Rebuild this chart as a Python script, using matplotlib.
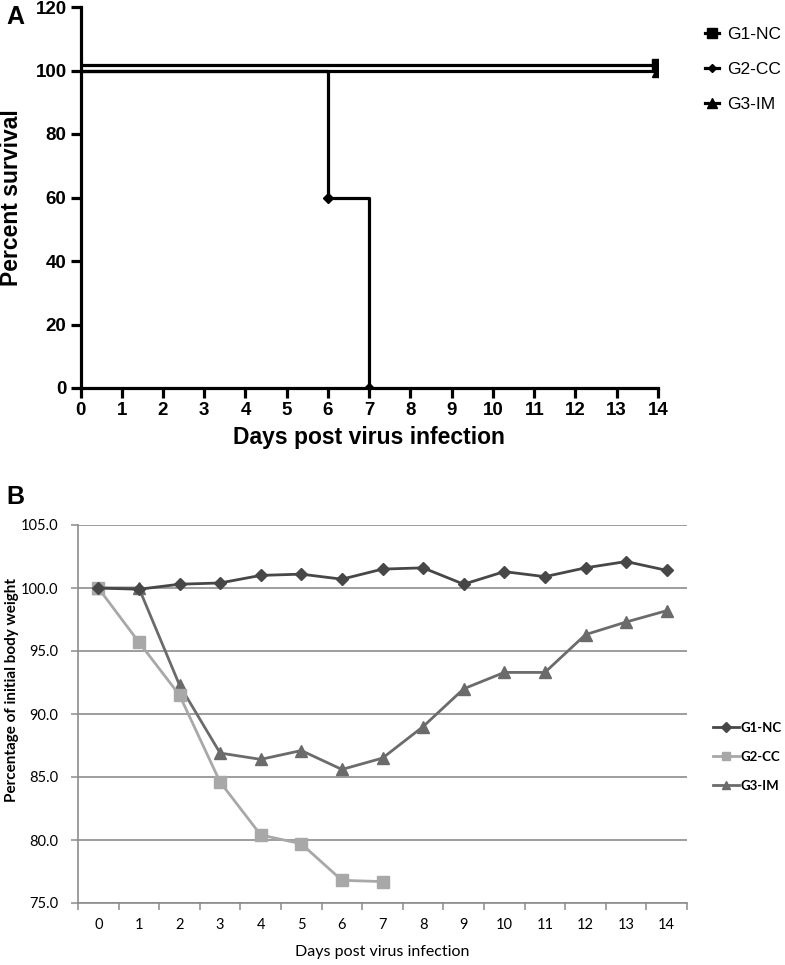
import matplotlib
matplotlib.use("Agg")
import matplotlib.pyplot as plt
from matplotlib.lines import Line2D
from matplotlib.transforms import offset_copy
import numpy as np

# ---------------- Data ----------------
# Panel A: survival (Kaplan-Meier steps)
g1_surv_days = [0, 14]
g1_surv_pct = [100, 100]
g2_surv_days = [0, 6, 7]
g2_surv_pct = [100, 60, 0]
g3_surv_days = [0, 14]
g3_surv_pct = [100, 100]

# Panel B: body weight
days = list(range(15))
g1_weight = [100.0, 99.9, 100.3, 100.4, 101.0, 101.1, 100.7, 101.5, 101.6, 100.3, 101.3, 100.9, 101.6, 102.1, 101.4]
g2_weight = [100.0, 95.7, 91.5, 84.6, 80.4, 79.7, 76.8, 76.7]
g3_weight = [100.0, 100.0, 92.3, 86.9, 86.4, 87.1, 85.6, 86.5, 89.0, 92.0, 93.3, 93.3, 96.3, 97.3, 98.2]
labels = ["G1-NC", "G2-CC", "G3-IM"]

W, H = 785, 965
fig = plt.figure(figsize=(W / 100, H / 100), dpi=100)

# ---------------- Panel A ----------------
bold = dict(family="Liberation Sans", weight="bold")
axA = fig.add_axes([80.5 / W, 1 - 388 / H, (658 - 80.5) / W, (388 - 7) / H])
lw = 2.3
up = offset_copy(axA.transData, fig=fig, x=0, y=6, units="dots")
axA.plot(g1_surv_days, g1_surv_pct, color="black", lw=lw, transform=up, solid_capstyle="butt")
axA.plot(g1_surv_days[-1:], g1_surv_pct[-1:], marker="s", ms=9, color="black", transform=up, ls="none")
axA.plot(g3_surv_days, g3_surv_pct, color="black", lw=lw, solid_capstyle="butt")
axA.plot(g3_surv_days[-1:], g3_surv_pct[-1:], marker="^", ms=9, color="black", ls="none")
axA.step(g2_surv_days, g2_surv_pct, where="post", color="black", lw=lw)
axA.plot(g2_surv_days[1:], g2_surv_pct[1:], marker="D", ms=5, color="black", ls="none")

axA.set_xlim(0, 14)
axA.set_ylim(0, 120)
axA.set_xticks(range(0, 15))
axA.set_yticks(range(0, 121, 20))
for s in ["top", "right"]:
    axA.spines[s].set_visible(False)
for s in ["left", "bottom"]:
    axA.spines[s].set_linewidth(2.3)
axA.tick_params(axis="both", direction="out", length=7, width=2.3, pad=3, labelsize=13.5)
for t in axA.get_xticklabels() + axA.get_yticklabels():
    t.set_fontfamily("Liberation Sans")
    t.set_fontweight("bold")
axA.set_xlabel("Days post virus infection", fontsize=16.5, labelpad=5, **bold)
axA.set_ylabel("Percent survival", fontsize=16.5, **bold)
axA.yaxis.set_label_coords((23 - 80.5) / 577.5, 0.5)

hA = [Line2D([], [], color="black", lw=2.3, marker=m, ms=ms) for m, ms in [("s", 7), ("D", 4.5), ("^", 7.5)]]
fig.legend(hA, labels, loc="upper left", bbox_to_anchor=(696 / W, 1 - 18 / H),
           frameon=False, borderpad=0, handlelength=0.85, handletextpad=0.45, labelspacing=1.15,
           prop=dict(family="Liberation Sans", size=12.5))
fig.text(6 / W, 1 - 17 / H, "A", fontsize=18, va="center", ha="left", **bold)

# ---------------- Panel B ----------------
cal = ["Lato", "DejaVu Sans"]
axB = fig.add_axes([78 / W, 1 - 903 / H, (687 - 78) / W, (903 - 525) / H])
grid_c = "#8c8c8c"
axB.set_ylim(75, 105)
axB.set_xlim(-0.5, 14.5)
axB.set_yticks(np.arange(75, 105.1, 5))
axB.set_yticklabels([f"{v:.1f}" for v in np.arange(75, 105.1, 5)], family=cal, fontsize=10.5)
axB.yaxis.grid(True, color=grid_c, lw=1.2)
axB.set_axisbelow(True)
axB.set_xticks(np.arange(-0.5, 14.6, 1))
axB.set_xticklabels([])
axB.set_xticks(days, minor=True)
axB.set_xticklabels([str(d) for d in days], minor=True, family=cal, fontsize=10.5)
axB.tick_params(axis="x", which="major", direction="out", length=5, width=1.1, color=grid_c)
axB.tick_params(axis="x", which="minor", length=0, pad=11)
axB.tick_params(axis="y", direction="out", length=5, width=1.1, color=grid_c, pad=9)
for s in ["top", "right"]:
    axB.spines[s].set_visible(False)
for s in ["left", "bottom"]:
    axB.spines[s].set_color(grid_c)
    axB.spines[s].set_linewidth(1.2)

c1, c2, c3 = "#474747", "#a8a8a8", "#6b6b6b"
axB.plot(days[:len(g3_weight)], g3_weight, color=c3, lw=2.0, marker="^", ms=8, label=labels[2], zorder=3)
axB.plot(days[:len(g2_weight)], g2_weight, color=c2, lw=2.0, marker="s", ms=8, label=labels[1], zorder=4)
axB.plot(days[:len(g1_weight)], g1_weight, color=c1, lw=2.0, marker="D", ms=6, label=labels[0], zorder=5)

axB.set_xlabel("Days post virus infection", family=cal, fontsize=11.5, labelpad=9)
axB.set_ylabel("Percentage of initial body weight", family=cal, fontsize=11, weight="bold")
axB.yaxis.set_label_coords((19 - 78) / 609, (903 - 690) / 378)

hB = [Line2D([], [], color=c1, lw=2.0, marker="D", ms=5),
      Line2D([], [], color=c2, lw=2.0, marker="s", ms=6),
      Line2D([], [], color=c3, lw=2.0, marker="^", ms=6)]
fig.legend(hB, labels, loc="upper left", bbox_to_anchor=(706 / W, 1 - 715 / H), frameon=False,
           borderpad=0, handlelength=2.0, handletextpad=0.15, labelspacing=1.3,
           prop=dict(family=cal, size=9.5, weight="bold"))
fig.text(6 / W, 1 - 497 / H, "B", fontsize=18, va="center", ha="left", **bold)

fig.savefig("out.png", dpi=100)
